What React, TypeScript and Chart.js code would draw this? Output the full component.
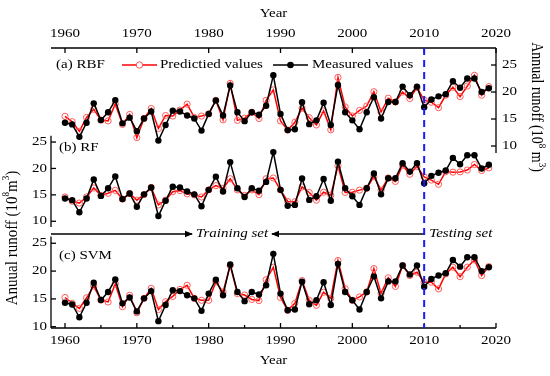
import { useEffect, useRef } from "react";
import { Chart, registerables } from "chart.js";

Chart.register(...registerables);

const years = [
  1960, 1961, 1962, 1963, 1964, 1965, 1966, 1967, 1968, 1969,
  1970, 1971, 1972, 1973, 1974, 1975, 1976, 1977, 1978, 1979,
  1980, 1981, 1982, 1983, 1984, 1985, 1986, 1987, 1988, 1989,
  1990, 1991, 1992, 1993, 1994, 1995, 1996, 1997, 1998, 1999,
  2000, 2001, 2002, 2003, 2004, 2005, 2006, 2007, 2008, 2009,
  2010, 2011, 2012, 2013, 2014, 2015, 2016, 2017, 2018, 2019,
];

const measured = [
  14.3, 14.0, 11.7, 14.3, 17.9, 14.8, 16.25, 18.5, 14.2, 15.25,
  12.75, 15.1, 16.4, 11.0, 13.9, 16.55, 16.4, 15.65, 15.1, 12.85,
  15.95, 18.45, 15.65, 21.2, 16.25, 14.6, 16.25, 15.8, 17.45, 23.1,
  15.95, 12.95, 13.1, 18.1, 14.05, 14.75, 18.0, 13.9, 21.3, 16.25,
  14.75, 13.1, 16.25, 19.05, 15.1, 18.15, 18.15, 21.0, 19.4, 21.0,
  17.2, 18.6, 19.2, 19.6, 22.0, 20.8, 22.5, 22.5, 20.0, 20.7,
];

const rbfPredicted = [
  15.5, 14.5, 12.7, 15.3, 16.8, 14.8, 14.65, 17.8, 14.0, 15.85,
  11.55, 15.1, 16.95, 13.25, 15.65, 15.55, 16.65, 17.75, 15.3, 15.55,
  15.95, 18.45, 14.85, 21.6, 14.75, 15.15, 16.25, 15.1, 18.45, 20.4,
  14.65, 12.95, 14.4, 17.0, 15.25, 13.9, 16.5, 13.0, 22.7, 17.25,
  15.55, 16.6, 17.4, 20.05, 16.3, 18.85, 18.15, 20.0, 18.8, 20.8,
  18.5, 18.1, 17.1, 19.4, 20.9, 19.15, 21.1, 23.1, 19.4, 21.0,
];

const rfPredicted = [
  14.6, 13.8, 13.45, 14.6, 16.3, 14.9, 15.3, 15.85, 14.2, 15.25,
  14.0, 15.05, 16.4, 13.1, 14.0, 15.6, 15.8, 15.2, 15.0, 14.6,
  15.95, 16.75, 16.25, 18.05, 15.95, 14.9, 15.95, 15.05, 18.05, 18.2,
  15.95, 13.75, 13.7, 16.5, 15.45, 14.0, 15.5, 14.95, 20.5, 15.45,
  15.5, 15.9, 16.25, 18.45, 15.9, 18.2, 17.55, 20.6, 18.9, 20.4,
  18.4, 17.8, 17.0, 19.4, 19.3, 19.35, 19.7, 20.75, 19.6, 20.1,
];

const svmPredicted = [
  15.25, 14.2, 13.3, 15.2, 17.3, 14.8, 14.45, 17.7, 13.6, 15.65,
  12.5, 15.1, 16.9, 13.1, 14.5, 15.45, 16.7, 17.45, 15.1, 14.75,
  14.75, 18.05, 16.25, 21.0, 15.95, 15.7, 14.9, 14.7, 18.45, 20.7,
  15.25, 12.95, 14.2, 18.3, 14.75, 13.85, 16.2, 15.1, 21.9, 16.85,
  14.75, 15.35, 16.25, 20.45, 16.0, 18.8, 17.25, 21.0, 19.2, 19.8,
  18.0, 18.0, 16.8, 19.5, 20.7, 19.0, 20.7, 22.0, 19.2, 20.8,
];

const xMajorTicks = [1960, 1970, 1980, 1990, 2000, 2010, 2020];
const xMinorTicks = [1965, 1975, 1985, 1995, 2005, 2015];
const yTicks = [10, 15, 20, 25];
const splitYear = 2010;

const panelLabels = ["(a) RBF", "(b) RF", "(c) SVM"];
const legendLabels = ["Predictied values", "Measured values"];

const FONT = '"Liberation Serif", "Times New Roman", serif';
const SX = 1.25;

function pts(vals: number[]) {
  return years.map((y, i) => ({ x: y, y: vals[i] }));
}

function txt(ctx: CanvasRenderingContext2D, s: string, x: number, y: number, align: CanvasTextAlign, font: string) {
  ctx.save();
  ctx.font = font;
  ctx.textAlign = align;
  ctx.textBaseline = "middle";
  ctx.fillStyle = "#000";
  ctx.translate(x, y);
  ctx.scale(SX, 1);
  ctx.fillText(s, 0, 0);
  ctx.restore();
}

function rotTitle(ctx: CanvasRenderingContext2D, parts: { t: string; sup?: boolean }[], cx: number, cy: number, angle: number, size: number) {
  ctx.save();
  ctx.translate(cx, cy);
  ctx.rotate(angle);
  ctx.scale(1, 1.12);
  ctx.fillStyle = "#000";
  ctx.textBaseline = "middle";
  ctx.textAlign = "left";
  let total = 0;
  const widths = parts.map((p) => {
    ctx.font = `${p.sup ? Math.round(size * 0.62) : size}px ${FONT}`;
    const w = ctx.measureText(p.t).width;
    total += w;
    return w;
  });
  let x = -total / 2;
  parts.forEach((p, i) => {
    ctx.font = `${p.sup ? Math.round(size * 0.62) : size}px ${FONT}`;
    ctx.fillText(p.t, x, p.sup ? -size * 0.38 : 0);
    x += widths[i];
  });
  ctx.restore();
}

function line(ctx: CanvasRenderingContext2D, x1: number, y1: number, x2: number, y2: number) {
  ctx.beginPath();
  ctx.moveTo(x1, y1);
  ctx.lineTo(x2, y2);
  ctx.stroke();
}

function arrowHead(ctx: CanvasRenderingContext2D, tipX: number, y: number, dir: number) {
  ctx.beginPath();
  ctx.moveTo(tipX, y);
  ctx.lineTo(tipX - dir * 8, y - 3.2);
  ctx.lineTo(tipX - dir * 8, y + 3.2);
  ctx.closePath();
  ctx.fill();
}

const decorPlugin = {
  id: "decor",
  afterDraw(chart: any) {
    const ctx: CanvasRenderingContext2D = chart.ctx;
    const { left, right, top, bottom } = chart.chartArea;
    const x = chart.scales.x;
    const yA = chart.scales.yA;
    const yB = chart.scales.yB;
    const yC = chart.scales.yC;
    const f = `12px ${FONT}`;
    const fi = `italic 12px ${FONT}`;

    ctx.save();
    ctx.strokeStyle = "#000";
    ctx.fillStyle = "#000";
    ctx.lineWidth = 1.3;

    // top axis
    line(ctx, left, top, right, top);
    xMajorTicks.forEach((v) => {
      const px = x.getPixelForValue(v);
      line(ctx, px, top, px, top + 5);
      txt(ctx, String(v), px, top - 14, "center", f);
    });
    txt(ctx, "Year", (left + right) / 2, top - 34, "center", f);

    // right axis (RBF)
    const rTop = top;
    const rBot = yA.getPixelForValue(8.7);
    line(ctx, right, rTop, right, rBot);
    yTicks.forEach((v) => {
      const py = yA.getPixelForValue(v);
      line(ctx, right - 5, py, right, py);
      txt(ctx, String(v), right + 6, py, "left", f);
    });
    rotTitle(ctx, [{ t: "Annual runoff (10" }, { t: "8", sup: true }, { t: " m" }, { t: "3", sup: true }, { t: ")" }], right + 40, 107, Math.PI / 2, 14);

    // left axis (RF)
    const bTop = yB.getPixelForValue(26.2);
    const bBot = yB.getPixelForValue(8.9);
    line(ctx, left, bTop, left, bBot);
    yTicks.forEach((v) => {
      const py = yB.getPixelForValue(v);
      line(ctx, left, py, left + 5, py);
      txt(ctx, String(v), left - 4, py, "right", f);
    });

    // left axis (SVM)
    const cTop = yC.getPixelForValue(26.2);
    line(ctx, left, cTop, left, bottom);
    yTicks.forEach((v) => {
      const py = yC.getPixelForValue(v);
      line(ctx, left, py, left + 5, py);
      txt(ctx, String(v), left - 4, py, "right", f);
    });
    rotTitle(ctx, [{ t: "Anuual runoff (10" }, { t: "8", sup: true }, { t: "m" }, { t: "3", sup: true }, { t: ")" }], 13, 238, -Math.PI / 2, 15);

    // bottom axis
    line(ctx, left, bottom, right, bottom);
    xMajorTicks.forEach((v) => {
      const px = x.getPixelForValue(v);
      line(ctx, px, bottom, px, bottom - 5);
      txt(ctx, String(v), px, bottom + 13, "center", f);
    });
    xMinorTicks.forEach((v) => {
      const px = x.getPixelForValue(v);
      line(ctx, px, bottom, px, bottom - 3);
    });
    txt(ctx, "Year", (left + right) / 2, bottom + 33, "center", f);

    // training / testing annotation
    const splitX = x.getPixelForValue(splitYear);
    const ay = 234;
    line(ctx, left, ay, 192, ay);
    arrowHead(ctx, 193, ay, 1);
    txt(ctx, "Training set", 232, ay, "center", fi);
    line(ctx, 272, ay, splitX, ay);
    arrowHead(ctx, 271, ay, -1);
    txt(ctx, "Testing set", splitX + 5, ay, "left", fi);

    // panel labels
    txt(ctx, panelLabels[0], left + 5, yA.getPixelForValue(25), "left", f);
    txt(ctx, panelLabels[1], left + 8, 148, "left", f);
    txt(ctx, panelLabels[2], left + 8, 256, "left", f);

    // legend
    const ly = yA.getPixelForValue(25);
    ctx.strokeStyle = "#ff0000";
    ctx.lineWidth = 1.5;
    line(ctx, 122, ly, 157, ly);
    ctx.fillStyle = "#fff";
    ctx.strokeStyle = "#ff5050";
    ctx.lineWidth = 1;
    ctx.beginPath();
    ctx.arc(139.5, ly, 3.2, 0, Math.PI * 2);
    ctx.fill();
    ctx.stroke();
    txt(ctx, legendLabels[0], 160, ly, "left", f);
    ctx.strokeStyle = "#000";
    ctx.lineWidth = 1.5;
    line(ctx, 273, ly, 308, ly);
    ctx.fillStyle = "#000";
    ctx.beginPath();
    ctx.arc(290.5, ly, 3.3, 0, Math.PI * 2);
    ctx.fill();
    txt(ctx, legendLabels[1], 312, ly, "left", f);

    // split line
    ctx.strokeStyle = "#1a1aff";
    ctx.lineWidth = 2;
    ctx.setLineDash([7, 5]);
    line(ctx, splitX, top, splitX, bottom);
    ctx.setLineDash([]);
    ctx.restore();
  },
};

function measuredSet(axis: string) {
  return {
    data: pts(measured),
    yAxisID: axis,
    borderColor: "#000",
    backgroundColor: "#000",
    borderWidth: 1.5,
    pointRadius: 3.2,
    pointBorderWidth: 0,
    pointBackgroundColor: "#000",
    tension: 0,
    order: 0,
    clip: false as any,
  };
}

function predictedSet(vals: number[], axis: string) {
  return {
    data: pts(vals),
    yAxisID: axis,
    borderColor: "#ff0000",
    backgroundColor: "#fff",
    borderWidth: 1.5,
    pointRadius: 3.1,
    pointBorderWidth: 1,
    pointBorderColor: "#ff5a5a",
    pointBackgroundColor: "rgba(255,255,255,0)",
    tension: 0,
    order: 1,
    clip: false as any,
  };
}

export default function App() {
  const ref = useRef<HTMLCanvasElement | null>(null);
  useEffect(() => {
    document.body.style.margin = "0";
    if (!ref.current) return;
    const chart = new Chart(ref.current, {
      type: "line",
      data: {
        datasets: [
          measuredSet("yA"),
          predictedSet(rbfPredicted, "yA"),
          measuredSet("yB"),
          predictedSet(rfPredicted, "yB"),
          measuredSet("yC"),
          predictedSet(svmPredicted, "yC"),
        ] as any,
      },
      options: {
        responsive: false,
        animation: false,
        layout: { padding: { left: 51, top: 48, right: 54, bottom: 48 } },
        plugins: { legend: { display: false }, tooltip: { enabled: false }, title: { display: false } },
        scales: {
          x: { type: "linear", min: 1958.05, max: 2020, display: false },
          yA: { type: "linear", min: -23.7, max: 28.15, display: false },
          yB: { type: "linear", min: -10.2, max: 42.8, display: false },
          yC: { type: "linear", min: 9.77, max: 60.1, display: false },
        },
      },
      plugins: [decorPlugin],
    });
    return () => chart.destroy();
  }, []);
  return (
    <div style={{ width: 550, height: 376 }}>
      <canvas ref={ref} width={550} height={376} />
    </div>
  );
}
